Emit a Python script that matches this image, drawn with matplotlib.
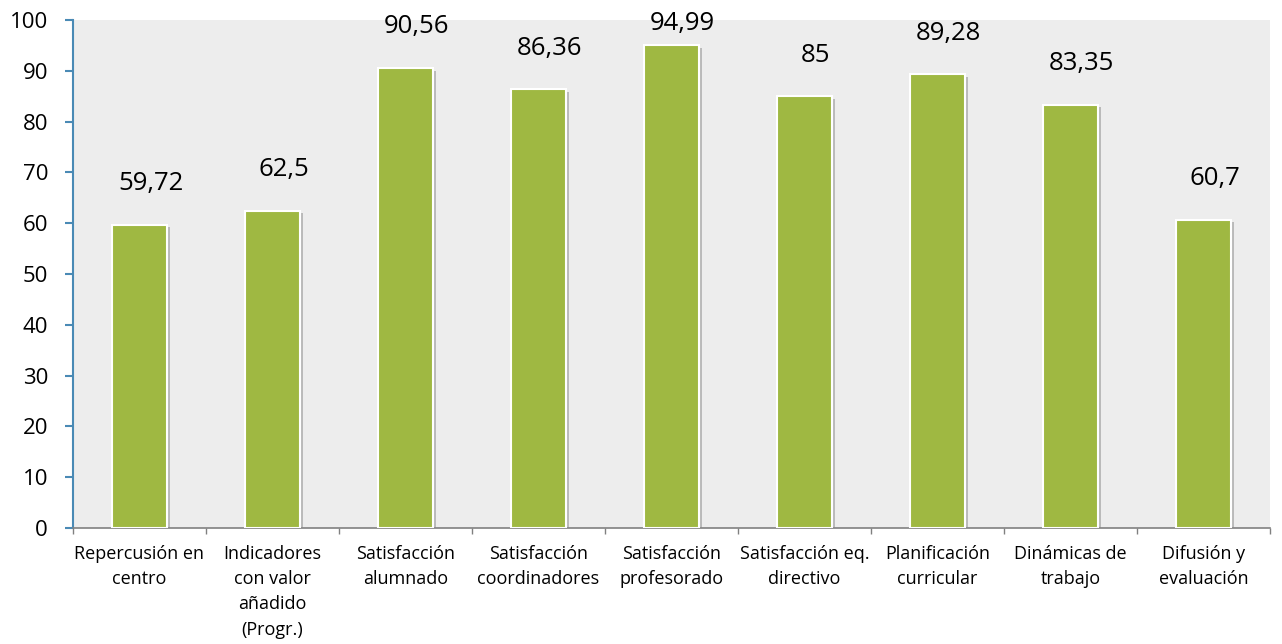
import numpy as np
import matplotlib.pyplot as plt
import matplotlib.patheffects as pe

# Data
categories = ["Repercusión en\ncentro", "Indicadores\ncon valor\nañadido\n(Progr.)",
              "Satisfacción\nalumnado", "Satisfacción\ncoordinadores",
              "Satisfacción\nprofesorado", "Satisfacción eq.\ndirectivo",
              "Planificación\ncurricular", "Dinámicas de\ntrabajo", "Difusión y\nevaluación"]
values = [59.72, 62.5, 90.56, 86.36, 94.99, 85, 89.28, 83.35, 60.7]
value_labels = ["59,72", "62,5", "90,56", "86,36", "94,99", "85", "89,28", "83,35", "60,7"]

plt.rcParams['font.family'] = ['Open Sans', 'DejaVu Sans']

fig = plt.figure(figsize=(12.82, 6.44), dpi=100)
ax = fig.add_axes([73 / 1282, 1 - 528 / 644, (1270 - 73) / 1282, (528 - 20) / 644])
ax.set_facecolor('#EDEDED')

x = np.arange(len(categories))
bars = ax.bar(x, values, width=0.41, color='#9FB842', edgecolor='white', linewidth=1.5, zorder=3,
              path_effects=[pe.SimplePatchShadow(offset=(2, -2), shadow_rgbFace='#888888', alpha=0.5),
                            pe.Normal()])

# labels sit ~41px above bar top (a bit right of centre), clamped near the top edge
for xi, v, lab in zip(x, values, value_labels):
    ax.annotate(lab, (xi, min(v + 8.1, 99.4)), xytext=(8, 0), textcoords='offset points',
                ha='center', va='center', fontsize=18.5, color='black',
                annotation_clip=False, zorder=4)

ax.set_xlim(-0.5, len(categories) - 0.5)
ax.set_ylim(0, 100)
ax.set_yticks(np.arange(0, 101, 10))
ax.tick_params(axis='y', labelsize=16, colors='#4A8AB5', labelcolor='black', length=6, width=1.5, pad=12)

ax.set_xticks(x)
ax.set_xticklabels(categories, fontsize=13, linespacing=1.52)
ax.set_xticks(np.arange(-0.5, len(categories)), minor=True)
ax.tick_params(axis='x', which='major', length=0, pad=12)
ax.tick_params(axis='x', which='minor', length=4.5, width=1, colors='#808080')

for s in ['top', 'right']:
    ax.spines[s].set_visible(False)
ax.spines['left'].set_color('#4A8AB5')
ax.spines['left'].set_linewidth(1.5)
ax.spines['bottom'].set_color('#808080')
ax.spines['bottom'].set_linewidth(1.2)

fig.savefig('out.png', dpi=100)
